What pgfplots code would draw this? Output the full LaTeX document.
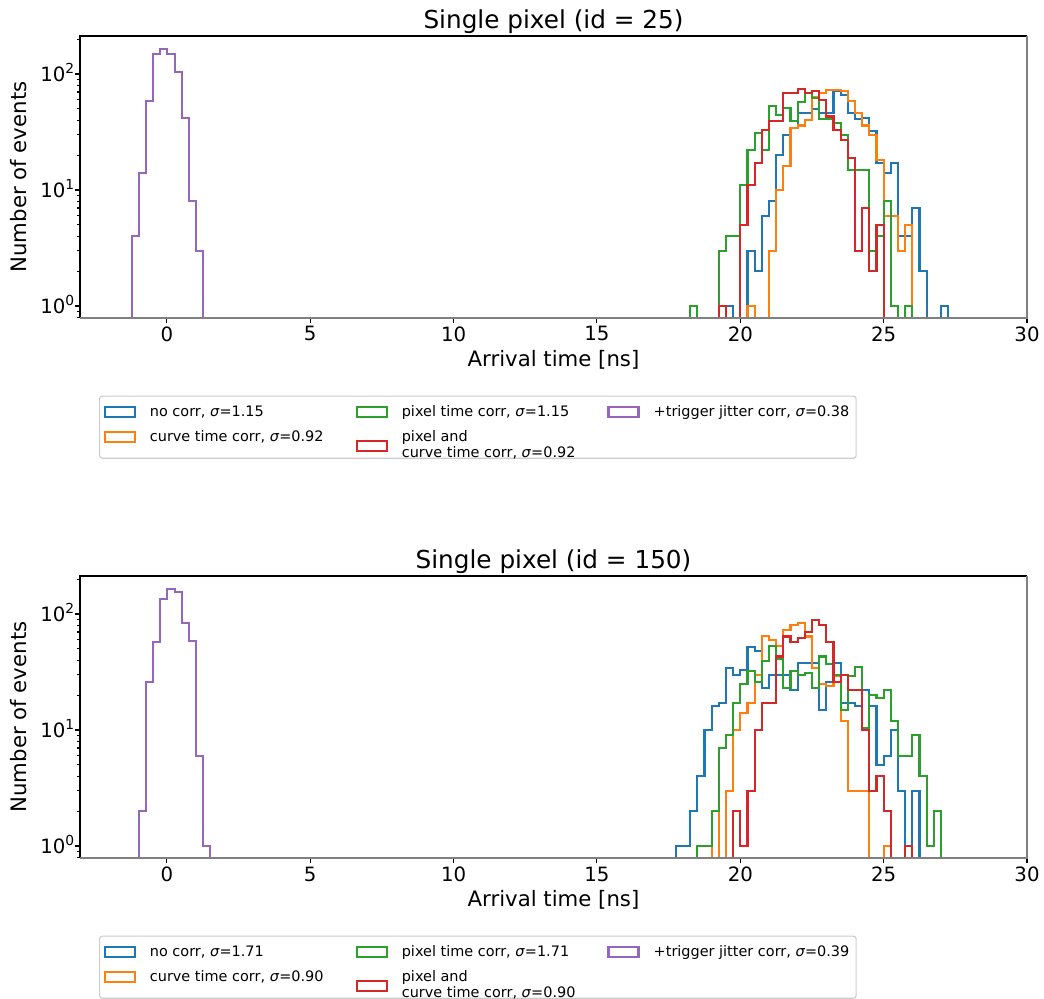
\documentclass[border=0pt]{standalone}
\usepackage{fontspec}
\setmainfont{DejaVu Sans}
\usepackage{pgfplots}
\pgfplotsset{compat=1.18}

\definecolor{tabblue}{HTML}{1F77B4}
\definecolor{taborange}{HTML}{FF7F0E}
\definecolor{tabgreen}{HTML}{2CA02C}
\definecolor{tabred}{HTML}{D62728}
\definecolor{tabpurple}{HTML}{9467BD}

% legend handles: open rectangles like matplotlib step histograms
\pgfplotsset{
  legend image code/.code={\draw[#1, sharp corners, line width=1.5pt] (0pt,-0.3pt) rectangle (21.6pt,6.9pt);},
  hist/.style={const plot, line width=1.5pt, forget plot},
  panel/.style={
    scale only axis, width=681.84pt, height=203.04pt,
    anchor=north west,
    xmin=-3.03, xmax=30,
    ymin=0.788, ymax=212.6,
    xtick={0,5,...,30},
    ytick={1,10,100},
    yticklabels={10\textsuperscript{0},10\textsuperscript{1},10\textsuperscript{2}},
    minor ytick={0.8,0.9,2,3,4,5,6,7,8,9,20,30,40,50,60,70,80,90,200},
    xtick pos=left, ytick pos=left,
    tick align=outside,
    major tick length=3.5pt, minor tick length=2pt,
    tick style={black, line width=0.8pt},
    axis line style={draw=none},
    clip mode=individual,
    ticklabel style={font=\fontsize{14.2}{17}\selectfont},
    /pgf/number format/assume math mode=true,
    xticklabel style={inner sep=0pt, yshift=-2.5pt},
    yticklabel style={anchor=base east, inner sep=0pt, yshift=-5.2pt},
    xlabel={Arrival time [ns]},
    ylabel={Number of events},
    label style={font=\fontsize{15.3}{18}\selectfont},
    xlabel style={at={(0.5,0)}, anchor=base, yshift=-34.6pt},
    ylabel style={at={(-0.0565,0.5)}, anchor=base},
    title style={font=\fontsize{17.8}{21}\selectfont, at={(0.5,1)}, anchor=base, yshift=-0.6pt},
    legend columns=3,
    legend style={at={(0.02006,-0.275)}, anchor=north west,
      draw=black!20, line width=0.8pt, rounded corners=2pt, fill=white,
      inner xsep=2.9pt, inner ysep=4.45pt, row sep=4.6pt,
      font=\fontsize{10.4}{11.5}\selectfont,
      cells={anchor=base west, inner sep=0pt},
      column sep=8.25pt,
      /tikz/every even column/.append style={column sep=21pt}},
  },
}

\begin{document}
\begin{tikzpicture}
\path[use as bounding box] (0,0) rectangle (751.68pt,-718.56pt);

% ---------- id = 25 ----------
\begin{axis}[panel, ymode=log, at={(57.6pt,-25.92pt)}, title={Single pixel (id = 25)}]
\addplot[hist, tabblue] coordinates {
  (19.5,0.1)(19.5,1)(19.75,0.1)(20.25,3)(20.5,2)(20.75,6)(21,8)(21.25,20)(21.5,30)
  (21.75,34)(22,46)(22.25,46)(22.5,50)(22.75,46)(23,46)(23.25,71)(23.5,66)(23.75,46)
  (24,41)(24.25,42)(24.5,32)(24.75,17)(25,14)(25.25,17)(25.5,4)(25.75,4)(26,7)
  (26.25,2)(26.5,0.1)(27,1)(27.25,0.1)};
\addplot[hist, taborange] coordinates {
  (20.25,0.1)(20.25,1)(20.5,0.1)(21,3)(21.25,10)(21.5,16)(21.75,34)(22,36)(22.25,40)
  (22.5,63)(22.75,68)(23,73)(23.25,73)(23.5,71)(23.75,59)(24,46)(24.25,36)(24.5,30)
  (24.75,18)(25,6)(25.25,6)(25.5,3)(25.75,5)(26,0.1)};
\addplot[hist, tabgreen] coordinates {
  (18.25,0.1)(18.25,1)(18.5,0.1)(19.25,3)(19.5,4)(19.75,4)(20,11)(20.25,22)(20.5,31)
  (20.75,22)(21,53)(21.25,44)(21.5,51)(21.75,39)(22,57)(22.25,68)(22.5,62)(22.75,41)
  (23,41)(23.25,38)(23.5,30)(23.75,15)(24,15)(24.25,15)(24.5,3)(24.75,4)(25,8)
  (25.25,1)(25.5,0.1)(25.75,1)(26,0.1)};
\addplot[hist, tabred] coordinates {
  (19.25,0.1)(19.25,1)(19.5,0.1)(20,5)(20.25,11)(20.5,17)(20.75,33)(21,39)(21.25,39)
  (21.5,68)(21.75,68)(22,74)(22.25,68)(22.5,71)(22.75,60)(23,43)(23.25,33)(23.5,27)
  (23.75,19)(24,3)(24.25,7)(24.5,2)(24.75,5)(25,0.1)};
\addplot[hist, tabpurple] coordinates {
  (-1.23,0.1)(-1.23,4)(-0.98,14)(-0.73,59)(-0.48,148)(-0.23,164)(0.02,148)(0.27,104)
  (0.52,42)(0.77,8)(1.02,3)(1.27,0.1)};

\draw[black, line width=0.8pt] (rel axis cs:0,0) -- (rel axis cs:0,1) -- (rel axis cs:1,1);
\draw[gray, line width=1pt] (rel axis cs:0,0) -- (rel axis cs:1,0) -- (rel axis cs:1,1);

\addlegendimage{tabblue}
\addlegendentry{no corr, \textit{σ}=1.15\strut}
\addlegendimage{tabgreen}
\addlegendentry{pixel time corr, \textit{σ}=1.15\strut}
\addlegendimage{tabpurple}
\addlegendentry{+trigger jitter corr, \textit{σ}=0.38\strut}
\addlegendimage{taborange}
\addlegendentry{curve time corr, \textit{σ}=0.92\strut}
\addlegendimage{tabred, yshift=-6.6pt}
\addlegendentry{\begin{tabular}[t]{@{}l@{}}pixel and\\curve time corr, \textit{σ}=0.92\end{tabular}}
\end{axis}

% ---------- id = 150 ----------
\begin{axis}[panel, ymode=log, at={(57.6pt,-414.72pt)}, title={Single pixel (id = 150)}]
\addplot[hist, tabblue] coordinates {
  (17.75,0.1)(17.75,1)(18,1)(18.25,2)(18.5,4)(18.75,10)(19,16)(19.25,17)(19.5,34)
  (19.75,30)(20,33)(20.25,52)(20.5,48)(20.75,23)(21,30)(21.25,30)(21.5,30)(21.75,22)
  (22,38)(22.25,38)(22.5,38)(22.75,15)(23,26)(23.25,38)(23.5,17)(23.75,17)(24,16)
  (24.25,22)(24.5,16)(24.75,5)(25,6)(25.25,10)(25.5,3)(25.75,1)(26,3)(26.25,0.1)};
\addplot[hist, taborange] coordinates {
  (19,0.1)(19,2)(19.25,0.1)(19.5,3)(19.75,10)(20,14)(20.25,17)(20.5,30)(20.75,65)
  (21,60)(21.25,53)(21.5,73)(21.75,80)(22,84)(22.25,64)(22.5,34)(22.75,25)(23,24)
  (23.25,29)(23.5,12)(23.75,3)(24,3)(24.25,3)(24.5,0.1)(25,1)(25.25,0.1)};
\addplot[hist, tabgreen] coordinates {
  (18.5,0.1)(18.5,1)(18.75,1)(19,2)(19.25,7)(19.5,9)(19.75,17)(20,25)(20.25,32)
  (20.5,26)(20.75,39)(21,53)(21.25,41)(21.5,23)(21.75,32)(22,30)(22.25,31)(22.5,23)
  (22.75,43)(23,37)(23.25,30)(23.5,15)(23.75,29)(24,35)(24.25,10.5)(24.5,20)(24.75,19)
  (25,22)(25.25,12)(25.5,6)(25.75,6)(26,9)(26.25,4)(26.5,1)(26.75,2)(27,0.1)};
\addplot[hist, tabred] coordinates {
  (19.75,0.1)(19.75,2)(20,1)(20.25,3)(20.5,10)(20.75,17)(21,17)(21.25,43)(21.5,64)
  (21.75,57)(22,62)(22.25,70)(22.5,89)(22.75,80)(23,57)(23.25,26)(23.5,30)(23.75,22)
  (24,22)(24.25,10)(24.5,3)(24.75,4)(25,2)(25.25,0.1)(25.75,1)(26,0.1)};
\addplot[hist, tabpurple] coordinates {
  (-0.98,0.1)(-0.98,2)(-0.73,26)(-0.48,57)(-0.23,135)(0.02,163)(0.27,156)(0.52,84)
  (0.77,59)(1.02,6)(1.27,1)(1.52,0.1)};

\draw[black, line width=0.8pt] (rel axis cs:0,0) -- (rel axis cs:0,1) -- (rel axis cs:1,1);
\draw[gray, line width=1pt] (rel axis cs:0,0) -- (rel axis cs:1,0) -- (rel axis cs:1,1);

\addlegendimage{tabblue}
\addlegendentry{no corr, \textit{σ}=1.71\strut}
\addlegendimage{tabgreen}
\addlegendentry{pixel time corr, \textit{σ}=1.71\strut}
\addlegendimage{tabpurple}
\addlegendentry{+trigger jitter corr, \textit{σ}=0.39\strut}
\addlegendimage{taborange}
\addlegendentry{curve time corr, \textit{σ}=0.90\strut}
\addlegendimage{tabred, yshift=-6.6pt}
\addlegendentry{\begin{tabular}[t]{@{}l@{}}pixel and\\curve time corr, \textit{σ}=0.90\end{tabular}}
\end{axis}
\end{tikzpicture}
\end{document}
